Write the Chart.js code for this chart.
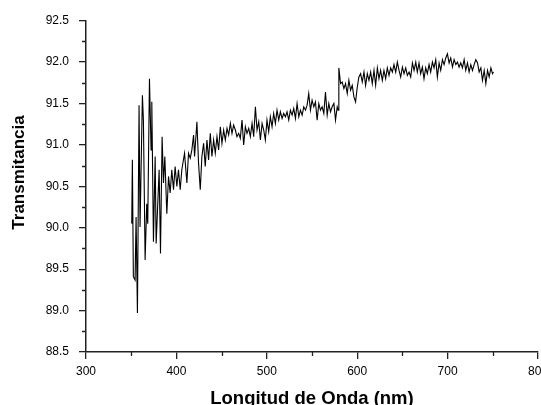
<!DOCTYPE html>
<html>
<head>
<meta charset="utf-8">
<script src="https://cdn.jsdelivr.net/npm/chart.js@4.4.1/dist/chart.umd.min.js"></script>
<style>
  html, body { margin: 0; padding: 0; background: #fff; overflow: hidden; width: 541px; height: 405px; }
</style>
</head>
<body>
<canvas id="grafico" width="553" height="410"></canvas>
<script>
// longitud de onda (nm)
const longitudes = [
  350.6,351.3,352.4,354.3,355.4,356.9,358.7,359.8,362.4,363.5,365.4,367.2,368.3,370.2,372.0,372.8,374.6,376.5,377.6,379.1,
  380.9,382.4,384.2,385.7,387.2,389.4,391.3,393.1,394.9,396.8,398.6,400.5,402.3,404.2,406.0,409.0,411.6,413.4,415.3,417.1,
  419.0,420.1,422.7,424.5,426.4,428.2,430.1,431.9,433.8,435.6,437.5,439.3,441.2,443.0,444.9,446.7,448.6,450.4,452.3,454.1,
  456.0,457.8,459.7,461.5,463.3,465.2,467.0,468.9,470.7,472.6,474.4,476.3,478.1,480.0,481.8,483.7,485.5,487.4,489.2,491.1,
  492.9,494.8,496.6,498.4,500.2,502.1,503.9,505.8,507.6,509.5,511.3,513.2,515.0,516.9,518.7,520.6,522.4,524.3,526.1,528.0,
  529.8,531.7,533.5,535.4,537.2,539.1,540.9,542.8,544.6,546.4,548.3,550.1,552.0,553.8,555.7,557.5,559.4,561.2,563.1,564.9,
  566.8,568.6,570.5,572.3,574.2,576.0,577.9,579.0,579.7,581.6,583.4,585.3,587.1,589.0,590.8,592.7,594.5,596.4,598.2,600.1,
  601.9,603.8,605.6,607.5,609.3,611.2,613.0,614.9,616.7,618.6,620.4,622.3,624.1,625.9,627.8,629.6,631.5,633.3,635.2,637.0,
  638.9,640.7,642.6,644.4,646.3,648.1,650.0,651.8,653.7,655.5,657.4,659.2,661.1,662.9,664.8,666.5,668.4,670.2,672.1,673.9,
  675.8,677.6,679.5,681.3,683.2,685.0,686.9,688.7,690.6,692.4,694.3,696.1,698.0,699.8,701.7,703.5,705.4,707.2,709.1,710.9,
  712.7,714.6,716.4,718.3,720.1,722.0,723.8,725.7,727.5,729.4,731.2,733.1,734.9,736.8,738.6,740.5,742.3,744.2,746.0,747.9,
  749.7,750.8
];

// transmitancia (%)
const transmitancia = [
  90.05,90.82,89.41,89.37,90.13,88.97,91.48,90.01,91.60,91.30,89.61,90.29,90.05,91.80,90.94,91.52,89.83,90.86,89.81,90.21,
  90.70,89.69,91.10,90.54,90.86,90.17,90.62,90.42,90.70,90.46,90.74,90.50,90.70,90.46,90.70,90.90,90.54,90.90,90.84,90.94,
  91.12,90.86,91.28,90.78,90.46,90.86,91.02,90.74,91.06,90.82,91.14,90.86,91.06,90.90,91.10,90.94,91.22,91.02,91.18,91.06,
  91.20,91.12,91.26,91.14,91.24,91.18,91.10,91.14,91.08,91.30,91.00,91.22,91.14,91.20,91.10,91.26,91.10,91.46,91.18,91.28,
  91.06,91.26,91.18,91.06,91.30,91.16,91.34,91.22,91.38,91.26,91.42,91.30,91.40,91.32,91.38,91.34,91.40,91.30,91.42,91.36,
  91.44,91.32,91.50,91.34,91.42,91.36,91.46,91.42,91.48,91.62,91.42,91.54,91.46,91.52,91.30,91.50,91.42,91.46,91.38,91.64,
  91.36,91.50,91.40,91.46,91.50,91.30,91.46,91.42,91.93,91.74,91.76,91.68,91.74,91.62,91.78,91.66,91.72,91.58,91.52,91.70,
  91.82,91.86,91.76,91.88,91.72,91.86,91.78,91.88,91.74,91.90,91.72,91.93,91.80,91.90,91.78,91.90,91.80,91.93,91.84,91.93,
  91.88,91.97,91.88,92.00,91.90,91.82,91.94,91.86,91.93,91.84,91.88,91.82,91.99,91.90,92.00,91.88,91.99,91.86,91.94,91.80,
  91.93,91.86,91.97,91.88,92.00,91.93,92.03,91.82,91.99,91.90,92.03,91.97,92.05,92.10,91.99,92.05,91.94,92.03,91.97,92.00,
  91.94,91.99,91.93,92.03,91.90,91.99,91.88,91.97,91.90,91.97,92.03,91.99,91.88,91.93,91.78,91.90,91.74,91.90,91.82,91.93,
  91.86,91.88
];

const ejeX = { min: 300, max: 800, paso: 100, menor: 50 };
const ejeY = { min: 88.5, max: 92.5, paso: 0.5, menor: 0.25 };

// marcas menores y titulo del eje y
const extras = {
  id: 'extras',
  afterDraw(chart) {
    const ctx = chart.ctx;
    const x = chart.scales.x;
    const y = chart.scales.y;
    ctx.save();
    ctx.strokeStyle = '#222';
    ctx.lineWidth = 1.3;
    ctx.beginPath();
    for (let v = ejeX.min + ejeX.menor; v < ejeX.max; v += ejeX.paso) {
      const p = Math.round(x.getPixelForValue(v)) + 0.5;
      ctx.moveTo(p, x.top);
      ctx.lineTo(p, x.top + 4);
    }
    for (let v = ejeY.min + ejeY.menor; v < ejeY.max; v += ejeY.paso) {
      const p = Math.round(y.getPixelForValue(v)) + 0.5;
      ctx.moveTo(y.right, p);
      ctx.lineTo(y.right - 4, p);
    }
    ctx.stroke();

    ctx.translate(19, 172.5);
    ctx.rotate(-Math.PI / 2);
    ctx.font = 'bold 17px "Liberation Sans", Arial, sans-serif';
    ctx.textAlign = 'center';
    ctx.textBaseline = 'middle';
    ctx.fillStyle = '#000';
    ctx.fillText('Transmitancia', 0, 0);
    ctx.restore();
  }
};

function dibujar() {
  const puntos = longitudes.map((l, i) => ({ x: l, y: transmitancia[i] }));
  const ctx = document.getElementById('grafico').getContext('2d');
  Chart.defaults.font.family = '"Liberation Sans", Arial, sans-serif';
  Chart.defaults.color = '#000';

  new Chart(ctx, {
    type: 'line',
    data: {
      datasets: [{
        data: puntos,
        borderColor: '#000',
        borderWidth: 1.1,
        pointRadius: 0,
        tension: 0,
        fill: false
      }]
    },
    options: {
      responsive: false,
      animation: false,
      events: [],
      layout: { padding: { top: 20.7, right: 0, bottom: 0, left: 0 } },
      plugins: { legend: { display: false }, tooltip: { enabled: false } },
      scales: {
        x: {
          type: 'linear',
          min: ejeX.min,
          max: ejeX.max,
          afterFit: s => { s.height = 58; },
          border: { display: true, color: '#222', width: 1.5 },
          grid: { display: true, drawOnChartArea: false, drawTicks: true, tickLength: 7, color: '#222', lineWidth: 1.3 },
          ticks: { stepSize: ejeX.paso, padding: 5, font: { size: 12 }, color: '#000' },
          title: {
            display: true,
            text: 'Longitud de Onda (nm)',
            font: { size: 18.5, weight: 'bold' },
            padding: { top: 0, bottom: 0 },
            color: '#000'
          }
        },
        y: {
          type: 'linear',
          min: ejeY.min,
          max: ejeY.max,
          afterFit: s => { s.width = 86; },
          border: { display: true, color: '#222', width: 1.5 },
          grid: { display: true, drawOnChartArea: false, drawTicks: true, tickLength: 7, color: '#222', lineWidth: 1.3 },
          ticks: {
            stepSize: ejeY.paso,
            padding: 10,
            font: { size: 12 },
            color: '#000',
            callback: v => v.toFixed(1)
          }
        }
      }
    },
    plugins: [extras]
  });
}

window.addEventListener('load', dibujar);
</script>
</body>
</html>
